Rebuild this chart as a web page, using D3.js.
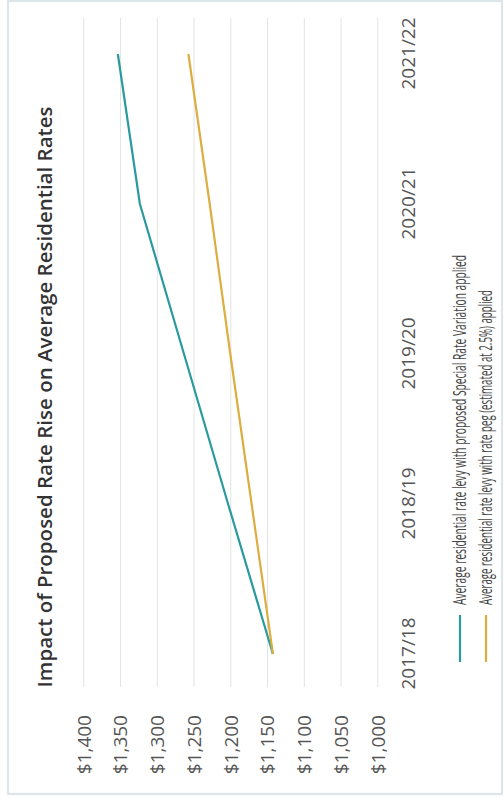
<!DOCTYPE html>
<html>
<head>
<meta charset="utf-8">
<script src="https://cdn.jsdelivr.net/npm/d3@7"></script>
<style>
  html, body { margin: 0; padding: 0; background: #fff; }
  svg { display: block; }
</style>
</head>
<body>
<svg id="chart" width="504" height="798"></svg>
<script>
// Financial years on the category axis
const years = ["2017/18", "2018/19", "2019/20", "2020/21", "2021/22"];
// Average residential rate levy with the Special Rate Variation
const srvLevy = [1142, 1203, 1263, 1323, 1353];
// Average residential rate levy with the 2.5% rate peg
const pegLevy = [1142, 1171, 1200, 1228, 1257];
// Value axis ticks
const valueTicks = [1000, 1050, 1100, 1150, 1200, 1250, 1300, 1350, 1400];

const seriesNames = [
  "Average residential rate levy with proposed Special Rate Variation applied",
  "Average residential rate levy with rate peg (estimated at 2.5%) applied"
];
const seriesColors = ["#2b9a9e", "#dcae42"];

const W = 504, H = 798;
const svg = d3.select("#chart");

// Outer frame
svg.append("rect")
  .attr("x", 8).attr("y", 1)
  .attr("width", 494).attr("height", 793)
  .attr("fill", "#fff")
  .attr("stroke", "#dde5eb").attr("stroke-width", 2.2);

// The chart is laid out landscape (798 x 504) and turned a quarter turn.
const g = svg.append("g").attr("transform", `translate(0,${H}) rotate(-90)`);

const plotLeft = 111, plotRight = 780;
const x = d3.scalePoint().domain(years).range([144, 744]);
const y = d3.scaleLinear().domain([1000, 1400]).range([377.3, 83.3]);

// Value axis with gridlines
const yAxis = d3.axisLeft(y)
  .tickValues(valueTicks)
  .tickFormat(d3.format("$,"))
  .tickSizeInner(-(plotRight - plotLeft))
  .tickSizeOuter(0)
  .tickPadding(28);

const ya = g.append("g").attr("transform", `translate(${plotLeft},0)`).call(yAxis);
ya.select(".domain").remove();
ya.selectAll(".tick line").attr("stroke", "#e3e3e3").attr("stroke-width", 1);
ya.selectAll(".tick text")
  .attr("fill", "#555")
  .attr("font-family", "'Open Sans', sans-serif")
  .attr("font-size", 19)
  .attr("dy", "0.36em");

// Category axis
const xAxis = d3.axisBottom(x).tickSize(0).tickPadding(0);
const xa = g.append("g").attr("transform", "translate(0,401)").call(xAxis);
xa.select(".domain").remove();
xa.selectAll(".tick text")
  .attr("fill", "#555")
  .attr("font-family", "'Open Sans', sans-serif")
  .attr("font-size", 19);

// Series lines
const line = d3.line().x((d, i) => x(years[i])).y(d => y(d));
[srvLevy, pegLevy].forEach((vals, k) => {
  g.append("path")
    .datum(vals)
    .attr("d", line)
    .attr("fill", "none")
    .attr("stroke", seriesColors[k])
    .attr("stroke-width", 2.2)
    .attr("stroke-linejoin", "round");
});

// Title
g.append("text")
  .attr("x", 401).attr("y", 52)
  .attr("text-anchor", "middle")
  .attr("font-family", "'Open Sans', sans-serif")
  .attr("font-weight", 600)
  .attr("font-size", 20.5)
  .attr("fill", "#333")
  .text("Impact of Proposed Rate Rise on Average Residential Rates");

// Legend
const legendRows = [460, 486];
const legendWidths = [350, 315];
seriesNames.forEach((name, k) => {
  const ly = legendRows[k];
  g.append("line")
    .attr("x1", 136).attr("x2", 183)
    .attr("y1", ly).attr("y2", ly)
    .attr("stroke", seriesColors[k]).attr("stroke-width", 2.2);
  g.append("text")
    .attr("x", 193).attr("y", ly + 6)
    .attr("font-family", "'Liberation Sans Narrow', 'Open Sans', sans-serif")
    .attr("font-size", 17.5)
    .attr("fill", "#444")
    .attr("textLength", legendWidths[k])
    .attr("lengthAdjust", "spacingAndGlyphs")
    .text(name);
});
</script>
</body>
</html>
